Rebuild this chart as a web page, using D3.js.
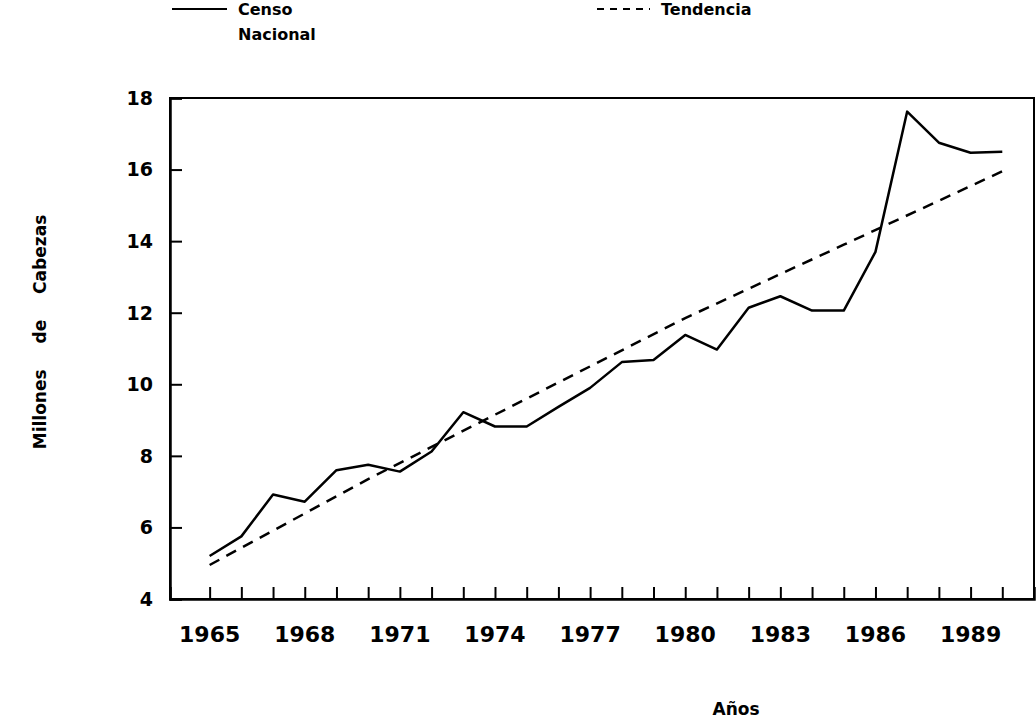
<!DOCTYPE html>
<html lang="es">
<head>
<meta charset="UTF-8">
<title>Censo Nacional y Tendencia</title>
<style>
  body { margin: 0; background: #fff; }
  svg text { font-family: "DejaVu Sans", sans-serif; font-weight: bold; fill: #000; }
</style>
</head>
<body>
<div id="chart"></div>
<script src="https://d3js.org/d3.v7.min.js"></script>
<script>
// census series, millions of head
var years = [1965, 1966, 1967, 1968, 1969, 1970, 1971, 1972, 1973, 1974, 1975, 1976, 1977,
             1978, 1979, 1980, 1981, 1982, 1983, 1984, 1985, 1986, 1987, 1988, 1989, 1990];
var censo = [5.2, 5.75, 6.92, 6.72, 7.6, 7.75, 7.56, 8.12, 9.22, 8.82, 8.82, 9.37, 9.9,
             10.62, 10.68, 11.38, 10.97, 12.14, 12.46, 12.06, 12.06, 13.7, 17.62, 16.75, 16.47, 16.5];

// trend line read at a few years
var trendYears = [1965, 1970, 1975, 1980, 1985, 1990];
var trendValues = [4.95, 7.35, 9.6, 11.85, 13.9, 15.95];

var yTicks = [4, 6, 8, 10, 12, 14, 16, 18];
var xTickYears = d3.range(1965, 1991);
var xLabelYears = [1965, 1968, 1971, 1974, 1977, 1980, 1983, 1986, 1989];

var W = 1036, H = 721;
// plot box (note: "top" is reserved on window, so use plot* names)
var plotLeft = 170, plotRight = 1034, plotTop = 98, plotBottom = 599;

var svg = d3.select("#chart").append("svg")
  .attr("width", W)
  .attr("height", H);

var x = d3.scaleLinear().domain([1963.75, 1991]).range([plotLeft, plotRight]);
var y = d3.scaleLinear().domain([4, 18]).range([plotBottom, plotTop]);

// frame
svg.append("rect")
  .attr("x", plotLeft).attr("y", plotTop)
  .attr("width", plotRight - plotLeft).attr("height", plotBottom - plotTop)
  .attr("fill", "none").attr("stroke", "#000").attr("stroke-width", 2);

// y axis: inward ticks
var yAxis = d3.axisRight(y).tickValues(yTicks).tickSize(12).tickFormat("");
var gy = svg.append("g").attr("transform", "translate(" + plotLeft + ",0)").call(yAxis);
gy.select(".domain").attr("stroke-width", 2.5);
gy.selectAll(".tick line").attr("stroke-width", 2);

svg.selectAll(".ylab")
  .data(yTicks)
  .enter().append("text")
  .attr("class", "ylab")
  .attr("x", plotLeft - 17)
  .attr("y", d => y(d))
  .attr("dy", "0.36em")
  .attr("text-anchor", "end")
  .attr("font-size", 19)
  .text(d => d);

// x axis: ticks every year, pointing up
var xAxis = d3.axisTop(x).tickValues(xTickYears).tickSize(12).tickFormat("");
var gx = svg.append("g").attr("transform", "translate(0," + plotBottom + ")").call(xAxis);
gx.select(".domain").attr("stroke-width", 2.5);
gx.selectAll(".tick line").attr("stroke-width", 2);

svg.selectAll(".xlab")
  .data(xLabelYears)
  .enter().append("text")
  .attr("class", "xlab")
  .attr("x", d => x(d))
  .attr("y", 642)
  .attr("text-anchor", "middle")
  .attr("font-size", 22)
  .text(d => d);

// axis titles
svg.append("text")
  .attr("x", 736).attr("y", 715)
  .attr("text-anchor", "middle")
  .attr("font-size", 17)
  .text("Años");

svg.append("text")
  .attr("transform", "translate(46,332) rotate(-90)")
  .attr("text-anchor", "middle")
  .attr("font-size", 17)
  .style("word-spacing", "20px")
  .text("Millones de Cabezas");

// lines
var line = d3.line().x(d => x(d[0])).y(d => y(d[1]));

svg.append("path")
  .datum(d3.zip(trendYears, trendValues))
  .attr("d", line)
  .attr("fill", "none")
  .attr("stroke", "#000")
  .attr("stroke-width", 2.5)
  .attr("stroke-dasharray", "11,8");

svg.append("path")
  .datum(d3.zip(years, censo))
  .attr("d", line)
  .attr("fill", "none")
  .attr("stroke", "#000")
  .attr("stroke-width", 2.5)
  .attr("stroke-linejoin", "round");

// legend
var legend = svg.append("g");
legend.append("line")
  .attr("x1", 172).attr("x2", 227).attr("y1", 9).attr("y2", 9)
  .attr("stroke", "#000").attr("stroke-width", 2);
legend.append("text").attr("x", 238).attr("y", 15).attr("font-size", 16).text("Censo");
legend.append("text").attr("x", 238).attr("y", 40).attr("font-size", 16).text("Nacional");

legend.append("line")
  .attr("x1", 597).attr("x2", 650).attr("y1", 9).attr("y2", 9)
  .attr("stroke", "#000").attr("stroke-width", 2)
  .attr("stroke-dasharray", "7,6");
legend.append("text").attr("x", 661).attr("y", 15).attr("font-size", 16).text("Tendencia");
</script>
</body>
</html>
